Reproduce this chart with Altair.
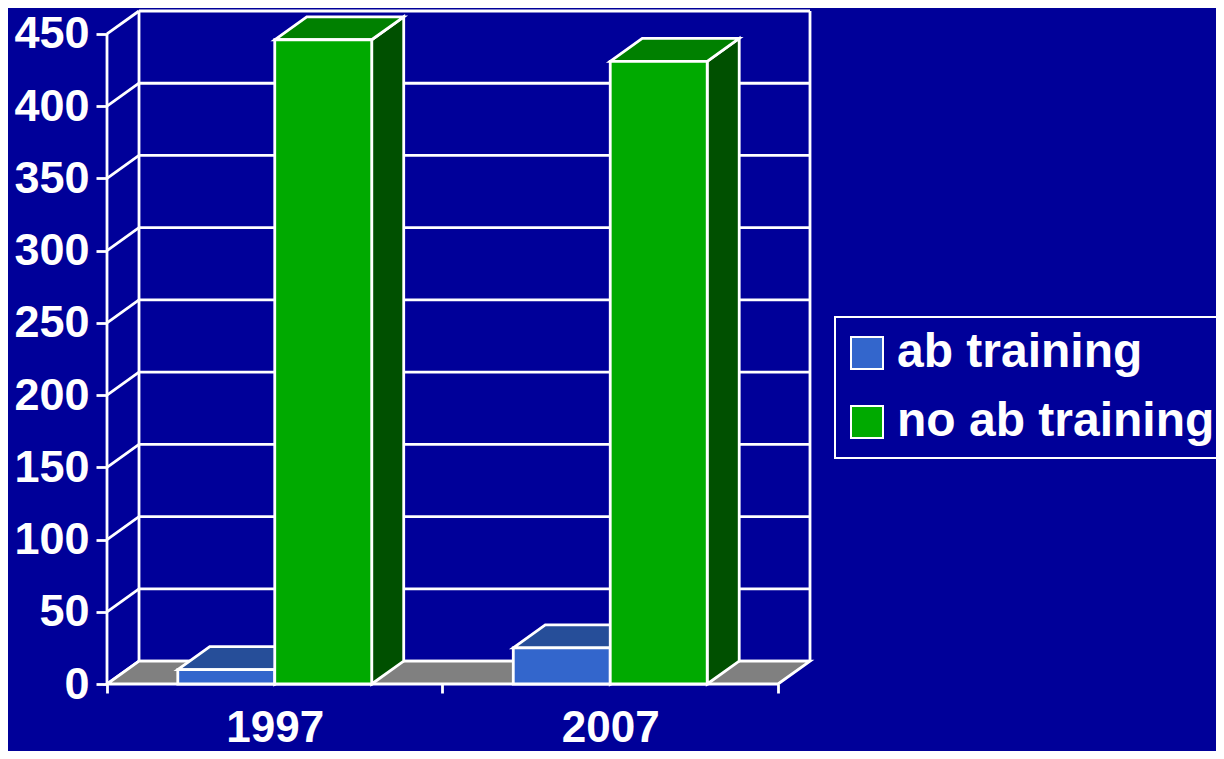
import altair as alt
import pandas as pd

# ---- data ----
years = ["1997", "2007"]
series = ["ab training", "no ab training"]
ab_training = [10, 25]
no_ab_training = [446, 431]
y_ticks = [0, 50, 100, 150, 200, 250, 300, 350, 400, 450]

# ---- style ----
BG = "#000099"
FRONT = ["#3366CC", "#00AA00"]
TOP = ["#264E99", "#008000"]
SIDE = ["#1A3366", "#005000"]
FLOOR = "#808080"
WHITE = "#FFFFFF"
FONT = "Liberation Sans"
LW = 2.8

# 3-D geometry (depth offset in data units) and bar width in category units
DX = 0.0954
DY = 15.9
BAR_W = 0.289
YMAX = max(y_ticks)
NCAT = len(years)

xscale = alt.Scale(domain=[0, NCAT + DX], nice=False, zero=False)
yscale = alt.Scale(domain=[0, YMAX + DY], nice=False, zero=False)

label_expr = " : ".join(
    [f"datum.value == {i + 0.5} ? '{yr}'" for i, yr in enumerate(years)]) + " : ''"
x_axis = alt.Axis(
    values=[i * 0.5 for i in range(2 * NCAT + 1)], labelExpr=label_expr,
    domain=False, grid=False, tickColor=WHITE, tickWidth=LW, tickSize=9,
    tickOpacity={"condition": {"test": "datum.value % 1 != 0", "value": 0}, "value": 1},
    labelColor=WHITE, labelFont=FONT, labelFontSize=44, labelFontWeight="bold",
    labelPadding=13, labelOverlap=False, labelFlush=False, labelBound=False, title=None)
y_axis = alt.Axis(
    values=y_ticks, domain=False, grid=False, tickColor=WHITE, tickWidth=LW, tickSize=11,
    labelColor=WHITE, labelFont=FONT, labelFontSize=45, labelFontWeight="bold",
    labelPadding=7, labelOverlap=False, labelFlush=False, labelBound=False, title=None)


def X(f, **kw):
    return alt.X(f, scale=xscale, axis=x_axis, **kw)


def Y(f, **kw):
    return alt.Y(f, scale=yscale, axis=y_axis, **kw)


# back wall grid lines
grid_df = pd.DataFrame({"y": [v + DY for v in y_ticks], "x": DX, "x2": NCAT + DX})
grid = alt.Chart(grid_df).mark_rule(color=WHITE, strokeWidth=LW).encode(
    x=X("x:Q"), x2="x2:Q", y=Y("y:Q"))

# left wall diagonals
diag_df = pd.DataFrame({"x": 0.0, "y": y_ticks, "x2": DX, "y2": [v + DY for v in y_ticks]})
diag = alt.Chart(diag_df).mark_rule(color=WHITE, strokeWidth=LW).encode(
    x=X("x:Q"), y=Y("y:Q"), x2="x2:Q", y2="y2:Q")

# wall verticals (back-left, back-right) and front axis line
vert_df = pd.DataFrame({"x": [DX, NCAT + DX, 0.0], "y": [DY, DY, 0.0],
                        "y2": [YMAX + DY, YMAX + DY, YMAX]})
vert = alt.Chart(vert_df).mark_rule(color=WHITE, strokeWidth=LW).encode(
    x=X("x:Q"), y=Y("y:Q"), y2="y2:Q")

# floor
floor_df = pd.DataFrame({"y": [0.0, DY], "x": [0.0, DX], "x2": [NCAT, NCAT + DX], "id": "f"})
floor = alt.Chart(floor_df).mark_area(orient="horizontal", color=FLOOR, stroke=WHITE,
                                      strokeWidth=LW, opacity=1).encode(
    y=Y("y:Q"), x=X("x:Q", stack=None), x2="x2:Q", detail="id:N")

layers = [grid, diag, vert, floor]

values = [ab_training, no_ab_training]
for s, name in enumerate(series):
    fronts, tops, sides = [], [], []
    for i, yr in enumerate(years):
        v = values[s][i]
        x0 = i + 0.5 - BAR_W if s == 0 else i + 0.5
        x1 = x0 + BAR_W
        bid = f"{name}-{yr}"
        fronts.append({"series": name, "year": yr, "x": x0, "x2": x1, "y": 0.0, "y2": v})
        tops.append({"id": bid, "y": v, "x": x0, "x2": x1})
        tops.append({"id": bid, "y": v + DY, "x": x0 + DX, "x2": x1 + DX})
        sides.append({"id": bid, "x": x1, "y": 0.0, "y2": v})
        sides.append({"id": bid, "x": x1 + DX, "y": DY, "y2": v + DY})
    side = alt.Chart(pd.DataFrame(sides)).mark_area(
        color=SIDE[s], stroke=WHITE, strokeWidth=LW, opacity=1).encode(
        x=X("x:Q"), y=Y("y:Q", stack=None), y2="y2:Q", detail="id:N")
    top = alt.Chart(pd.DataFrame(tops)).mark_area(
        orient="horizontal", color=TOP[s], stroke=WHITE, strokeWidth=LW, opacity=1).encode(
        y=Y("y:Q"), x=X("x:Q", stack=None), x2="x2:Q", detail="id:N")
    front = alt.Chart(pd.DataFrame(fronts)).mark_rect(
        stroke=WHITE, strokeWidth=LW, opacity=1).encode(
        x=X("x:Q"), x2="x2:Q", y=Y("y:Q"), y2="y2:Q",
        color=alt.Color("series:N", scale=alt.Scale(domain=series, range=FRONT),
                        legend=alt.Legend(title=None, orient="none", legendX=728, legendY=306)))
    layers += [side, top, front]

chart = alt.layer(*layers).properties(
    width=703, height=673,
    background=BG,
    padding={"left": 99, "top": 3, "right": 406, "bottom": 67},
    autosize=alt.AutoSizeParams(type="none"),
).configure_view(strokeWidth=0).configure_legend(
    labelFont=FONT, labelFontSize=48, labelFontWeight="bold", labelColor=WHITE,
    symbolType="square", symbolSize=1024, symbolStrokeColor=WHITE, symbolStrokeWidth=2,
    symbolOpacity=1, rowPadding=21, padding=12, strokeColor=WHITE, strokeWidth=2,
    symbolOffset=-4, labelOffset=6, labelLimit=0,
)

chart.save("out.html", embed_options={"renderer": "svg", "actions": False})
